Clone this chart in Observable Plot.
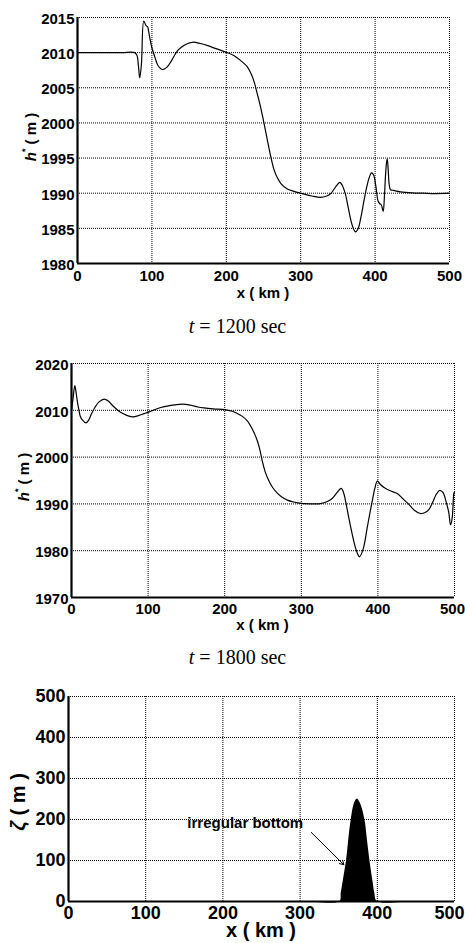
<!DOCTYPE html>
<html><head><meta charset="utf-8">
<script src="https://cdn.jsdelivr.net/npm/d3@7"></script>
<script src="https://cdn.jsdelivr.net/npm/@observablehq/plot@0.6"></script>
<style>
body{margin:0;background:#fff;width:465px;height:943px;overflow:hidden;position:relative}
.p{position:absolute;left:0}
.cap{position:absolute;left:5px;width:465px;text-align:center;font-family:"Liberation Serif","Times New Roman",serif;font-size:20px;line-height:20px;color:#000}
</style></head>
<body>
<div id="p1" class="p" style="top:0px"></div>
<div class="cap" style="top:316px"><i>t</i> = 1200 sec</div>
<div id="p2" class="p" style="top:340px"></div>
<div class="cap" style="top:647px"><i>t</i> = 1800 sec</div>
<div id="p3" class="p" style="top:670px"></div>
<script>
// ---------- data ----------
const xTicks = [0, 100, 200, 300, 400, 500];

// t = 1200 sec
const t1200_x = [0,20,40,60,77,80,82,83.7,86,89.1,92.3,94.1,96,97.7,100,103.9,108,113.8,120,126,134,140,146,151,156.3,165,175,185,198.9,210,219,228,236,241.5,246,250,254,260,264,268.6,274,282,290,300,315,327,335,340,345,349,352.6,356,360,364,368,371,373.7,377,381,385,389,392,395.2,398,401,404,406.3,408.5,410.9,412.5,414,415.3,416.3,417.5,419,420.7,425,434,450,465,480,500];
const t1200_h = [2010,2010,2010,2010,2010,2009.6,2008,2006.4,2008.5,2014.5,2013.8,2013.7,2012.8,2011.8,2010.7,2009.4,2008.2,2007.6,2007.9,2008.8,2010.2,2010.8,2011.2,2011.4,2011.5,2011.3,2011,2010.6,2010.1,2009.6,2008.9,2008.0,2006.3,2004.2,2002.3,2000.3,1998.2,1995.1,1993.4,1992.2,1991.3,1990.6,1990.3,1990,1989.6,1989.4,1989.6,1989.9,1990.6,1991.2,1991.55,1991.1,1989.9,1987.9,1985.9,1984.9,1984.5,1984.9,1986.6,1988.9,1991.0,1992.2,1992.9,1992.6,1991,1988.9,1988.5,1988.3,1987.4,1989.5,1992.5,1994.3,1994.9,1993.5,1991.2,1990.5,1990.4,1990.2,1990.05,1990,1989.95,1990];
const t1200_yTicks = [1980, 1985, 1990, 1995, 2000, 2005, 2010, 2015];

// t = 1800 sec
const t1800_x = [0,2,4.3,6,7.8,10,11.3,14.4,18.8,22,26,30.5,36,42.7,48,52,56.4,62,67.3,74,80.3,88,95,100.6,108,116.5,125,135,144.8,155,165,173,185,201.3,210,216.5,223,229.5,236,242.6,246,249,253,257.8,263,268.7,275,281.7,290,300,316.5,325,334,340.7,346,352.2,355,357.8,362,366.5,371,376,381,386,389.5,392.6,396,399.2,403,408,416,425.3,432,440.4,448,455.6,461,466.5,472,476,480.8,484,486,489,492.6,494.8,497,499.1,500];
const t1800_h = [2009.9,2012.5,2015.3,2013.8,2011.7,2009.8,2008.8,2007.9,2007.3,2007.8,2009.2,2010.6,2011.8,2012.4,2012,2011.3,2010.6,2009.8,2009.3,2008.8,2008.6,2008.9,2009.3,2009.6,2010.1,2010.6,2010.9,2011.15,2011.3,2011.1,2010.7,2010.5,2010.3,2010.1,2009.8,2009.3,2008.7,2007.75,2006,2003.5,2001.5,1999.2,1996.8,1994.9,1993.4,1992.3,1991.4,1990.8,1990.4,1990.1,1990,1990.05,1990.5,1991.2,1992.3,1993.3,1992.5,1990.6,1987,1983.5,1980.5,1978.7,1980.5,1984.9,1988,1990.6,1993.3,1994.9,1994.2,1993.5,1992.8,1992.2,1991.2,1989.9,1988.6,1987.95,1988.1,1988.8,1990.5,1992,1992.9,1992.6,1992.1,1990.5,1988.1,1985.5,1987,1992.2,1992.6];
const t1800_yTicks = [1970, 1980, 1990, 2000, 2010, 2020];

// irregular bottom
const bottom_x = [0,100,200,300,351.5,353.3,355.9,360.2,363,366.3,370.6,374,377.9,383.9,387.2,390.4,394.3,396.8,400,450,500];
const bottom_z = [0,0,0,0,0,20,50,100,150,200,240,250,240,200,150,100,50,20,0,0,0];
const bottom_yTicks = [0, 100, 200, 300, 400, 500];
const note_text = ["irregular bottom"];
const note_pos = [{x: 229, z: 190}];
const arrow_from = [314.5, 168.5];
const arrow_to = [356.7, 89.6];

// ---------- drawing ----------
const FONT = '"Liberation Sans", Arial, Helvetica, sans-serif';

function panel(el, o) {
  const rows = o.xs.map((x, i) => ({x, y: o.ys[i]}));
  const innerTicks = xTicks.slice(0, -1);
  const lastTick = xTicks.slice(-1);
  const marks = [
    Plot.gridX(xTicks, {stroke: "#000", strokeOpacity: 1, strokeWidth: 1, strokeDasharray: "1,1"}),
    Plot.gridY(o.yTicks, {stroke: "#000", strokeOpacity: 1, strokeWidth: 1, strokeDasharray: "1,1"}),
    o.fill
      ? Plot.areaY(rows, {x: "x", y: "y", fill: "#000", curve: "catmull-rom"})
      : Plot.line(rows, {x: "x", y: "y", stroke: "#000", strokeWidth: 1.2, curve: "catmull-rom"}),
    Plot.axisX(innerTicks, {tickSize: 0, tickPadding: o.xPad, label: null, tickFormat: d => String(d)}),
    Plot.axisX(lastTick, {tickSize: 0, tickPadding: o.xPad, label: null, tickFormat: d => String(d), dx: o.lastDx}),
    Plot.axisY(o.yTicks, {tickSize: 0, tickPadding: o.yPad, label: null, tickFormat: d => String(d), dy: o.yDy}),
    Plot.ruleX([0], {stroke: "#000", strokeWidth: 2.2}),
    Plot.ruleY([o.yDomain[0]], {stroke: "#000", strokeWidth: 2.2}),
    ...(o.extra || [])
  ];
  const svg = Plot.plot({
    width: 465, height: o.height,
    marginLeft: o.ml, marginRight: o.mr, marginTop: o.mt, marginBottom: o.mb,
    style: {fontFamily: FONT, fontWeight: "bold", fontSize: o.fs + "px", color: "#000", background: "transparent", overflow: "visible"},
    x: {domain: [0, 500]},
    y: {domain: o.yDomain},
    marks
  });
  el.appendChild(svg);
  const s = d3.select(svg);
  const cx = (o.ml + 465 - o.mr) / 2;
  s.append("text")
    .attr("x", cx).attr("y", o.xLabelY)
    .attr("text-anchor", "middle").attr("dominant-baseline", "middle")
    .style("font-family", FONT).style("font-weight", "bold").style("font-size", o.lfs + "px")
    .text("x ( km )");
  const yl = s.append("text")
    .attr("transform", `translate(${o.yLabelX},${o.yLabelY}) rotate(-90)`)
    .attr("text-anchor", "middle").attr("dominant-baseline", "middle")
    .style("font-family", FONT).style("font-weight", "bold").style("font-size", o.lfs + "px");
  yl.append("tspan").style("font-style", "italic").text(o.sym);
  if (o.sup) yl.append("tspan").attr("dy", -o.lfs * 0.4).style("font-size", (o.lfs * 0.6) + "px").text(o.sup);
  yl.append("tspan").attr("dy", o.sup ? o.lfs * 0.4 : 0).text(" ( m )");
  return svg;
}

panel(document.getElementById("p1"), {
  xs: t1200_x, ys: t1200_h, yDomain: [1980, 2015], yTicks: t1200_yTicks,
  height: 305, ml: 77, mr: 16, mt: 17, mb: 42, fs: 15, lfs: 15,
  xPad: 7, yPad: 3, yDy: 1.5, lastDx: 0, xLabelY: 294, yLabelX: 32, yLabelY: 137,
  sym: "h", sup: "*"
});

panel(document.getElementById("p2"), {
  xs: t1800_x, ys: t1800_h, yDomain: [1970, 2020], yTicks: t1800_yTicks,
  height: 300, ml: 71, mr: 11, mt: 23, mb: 43, fs: 15, lfs: 15,
  xPad: 6, yPad: 3, yDy: 1.5, lastDx: -2, xLabelY: 286.5, yLabelX: 25, yLabelY: 137,
  sym: "h", sup: "*"
});

const noteRows = note_pos.map((d, i) => ({...d, t: note_text[i]}));
panel(document.getElementById("p3"), {
  xs: bottom_x, ys: bottom_z, yDomain: [0, 500], yTicks: bottom_yTicks, fill: true,
  height: 273, ml: 68, mr: 11, mt: 26, mb: 42, fs: 18, lfs: 20,
  xPad: 5, yPad: 3, yDy: 0, lastDx: -5, xLabelY: 262, yLabelX: 20, yLabelY: 132,
  sym: "ζ", sup: null,
  extra: [
    Plot.text(noteRows, {x: "x", y: "z", text: "t", fontSize: 15, fontWeight: "bold", fill: "#000"}),
    Plot.arrow([0], {x1: () => arrow_from[0], y1: () => arrow_from[1], x2: () => arrow_to[0], y2: () => arrow_to[1], stroke: "#000", strokeWidth: 1, headLength: 7})
  ]
});
</script>
</body></html>
